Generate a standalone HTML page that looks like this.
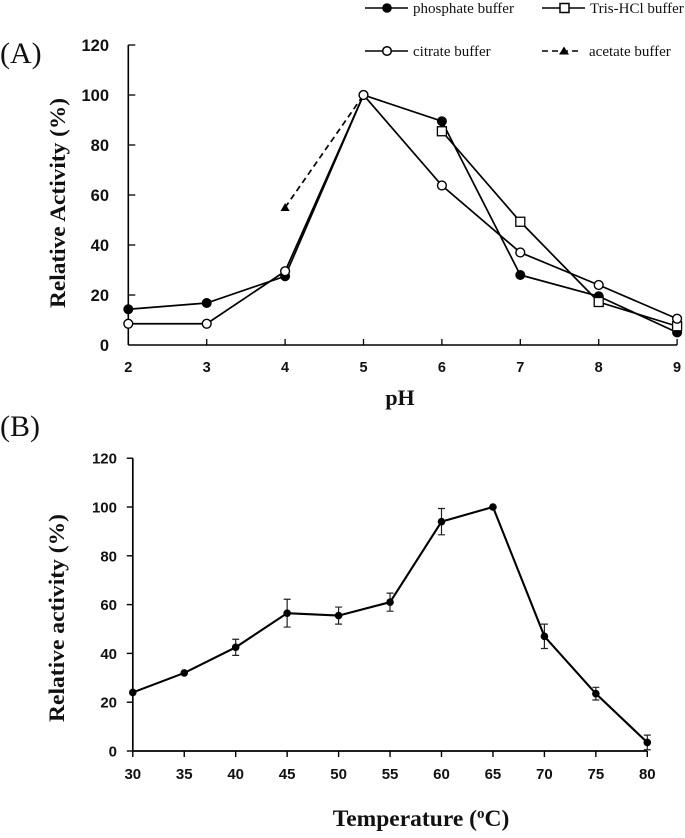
<!DOCTYPE html>
<html>
<head>
<meta charset="utf-8">
<style>
html,body{margin:0;padding:0;background:#fff;}
svg{display:block;}
text{fill:#111;}
.tick{font:bold 16.5px "Liberation Sans",sans-serif;}
.title{font:bold 22px "Liberation Serif",serif;}
.leg{font:15px "Liberation Serif",serif;}
.panel{font:30px "Liberation Serif",serif;}
</style>
</head>
<body>
<svg id="fig" width="685" height="838" viewBox="0 0 685 838" xmlns="http://www.w3.org/2000/svg">
  <text class="panel" x="0" y="63">(A)</text>
  <text class="panel" x="0" y="436">(B)</text>
  <text class="title" x="0" y="0" transform="translate(65,203) rotate(-90)" text-anchor="middle" textLength="210" lengthAdjust="spacingAndGlyphs">Relative Activity (%)</text>
  <text class="title" x="400" y="405" text-anchor="middle">pH</text>
  <text class="title" x="0" y="0" transform="translate(64,618) rotate(-90)" text-anchor="middle" textLength="208" lengthAdjust="spacingAndGlyphs">Relative activity (%)</text>
  <text class="title" x="421" y="826" text-anchor="middle" style="font-size:23.5px">Temperature (<tspan font-size="15" dy="-8">o</tspan><tspan dy="8">C)</tspan></text>

  <g>
    <line x1="365" y1="8" x2="408" y2="8" stroke="#000" stroke-width="1.6"/>
    <circle cx="387" cy="8" r="4.8" fill="#000"/>
    <text class="leg" x="413" y="13">phosphate buffer</text>
    <line x1="542" y1="8" x2="585" y2="8" stroke="#000" stroke-width="1.6"/>
    <rect x="560" y="3.5" width="9" height="9" fill="#fff" stroke="#000" stroke-width="1.5"/>
    <text class="leg" x="590" y="13">Tris-HCl buffer</text>
    <line x1="365" y1="51" x2="408" y2="51" stroke="#000" stroke-width="1.6"/>
    <circle cx="387" cy="51" r="4.3" fill="#fff" stroke="#000" stroke-width="1.5"/>
    <text class="leg" x="413" y="56">citrate buffer</text>
    <line x1="542" y1="51" x2="582" y2="51" stroke="#000" stroke-width="1.6" stroke-dasharray="6 4"/>
    <polygon points="564,46.5 569,54.5 559,54.5" fill="#000"/>
    <text class="leg" x="589" y="56">acetate buffer</text>
  </g>
  <g id="panelA"></g>
  <g id="panelB"></g>
</svg>
<script>
// Panel A data
const phCategories = [2, 3, 4, 5, 6, 7, 8, 9];
const phosphateValues = [14.3, 16.8, 27.5, 100, 89.5, 28, 19.5, 5];
const trisValues = [null, null, null, null, 85.5, 49.3, 17.2, 7.5];
const citrateValues = [8.5, 8.5, 29.5, 100, 63.8, 37, 24, 10.5];
const acetateValues = [null, null, 55, 100, null, null, null, null];
const panelAYTicks = [0, 20, 40, 60, 80, 100, 120];

// Panel B data
const tempCategories = [30, 35, 40, 45, 50, 55, 60, 65, 70, 75, 80];
const activityValues = [24, 32, 42.5, 56.5, 55.5, 61, 94, 100, 47, 23.5, 3.5];
const activityErrors = [0, 0, 3.3, 5.7, 3.5, 3.7, 5.4, 0, 5, 2.6, 3];
const panelBYTicks = [0, 20, 40, 60, 80, 100, 120];

const NS = 'http://www.w3.org/2000/svg';
function mk(parent, tag, props) {
  const el = document.createElementNS(NS, tag);
  for (const k in props) el.setAttribute(k, props[k]);
  parent.appendChild(el);
  return el;
}

// Panel A axis functions
const ax = v => 128.3 + (v - 2) * 78.4;
const ay = v => 345 - v * 2.5;
// Panel B axis functions
const bx = v => 132.8 + (v - 30) * 10.29;
const by = v => 751 - v * 2.44;

const A = document.getElementById('panelA');
const B = document.getElementById('panelB');

// Panel A axes
const aAxisY = mk(A, 'line', {x1: ax(2), y1: ay(120), x2: ax(2), y2: ay(0), stroke: '#000', 'stroke-width': 1.6});


const aAxisX = mk(A, 'line', {x1: ax(2), y1: ay(0), x2: ax(9), y2: ay(0), stroke: '#000', 'stroke-width': 1.6});



panelAYTicks.forEach(v => {
  if (v > 0) {
    const t = mk(A, 'line', {x1: ax(2), y1: ay(v), x2: ax(2) + 7, y2: ay(v), stroke: '#000', 'stroke-width': 1.3});
    
    
  }
  const l = mk(A, 'text', {x: 109, y: ay(v) + 6, 'text-anchor': 'end', class: 'tick'});
  l.textContent = v;
  
  
});
phCategories.forEach(v => {
  const t = mk(A, 'line', {x1: ax(v), y1: ay(0), x2: ax(v), y2: ay(0) - 6, stroke: '#000', 'stroke-width': 1.3});
  
  
  const l = mk(A, 'text', {x: ax(v), y: 372, 'text-anchor': 'middle', class: 'tick', style: 'font-size:14.5px'});
  l.textContent = v;
  
  
});

function polyPoints(xs, ys, fx, fy) {
  const pts = [];
  xs.forEach((x, i) => { if (ys[i] !== null) pts.push(fx(x) + ',' + fy(ys[i])); });
  return pts.join(' ');
}

// Panel A series lines
const lineAcetate = mk(A, 'polyline', {points: polyPoints(phCategories, acetateValues, ax, ay), fill: 'none', stroke: '#000', 'stroke-width': 1.7, 'stroke-dasharray': '6 4'});


const linePhosphate = mk(A, 'polyline', {points: polyPoints(phCategories, phosphateValues, ax, ay), fill: 'none', stroke: '#000', 'stroke-width': 1.7});


const lineTris = mk(A, 'polyline', {points: polyPoints(phCategories, trisValues, ax, ay), fill: 'none', stroke: '#000', 'stroke-width': 1.7});


const lineCitrate = mk(A, 'polyline', {points: polyPoints(phCategories, citrateValues, ax, ay), fill: 'none', stroke: '#000', 'stroke-width': 1.7});



// Panel A markers
phCategories.forEach((x, i) => {
  if (acetateValues[i] !== null && x !== 5) {
    const cx = ax(x), cy = ay(acetateValues[i]);
    const m = mk(A, 'polygon', {points: cx + ',' + (cy - 4.5) + ' ' + (cx + 4.5) + ',' + (cy + 3.5) + ' ' + (cx - 4.5) + ',' + (cy + 3.5), fill: '#000'});
    
    
  }
});
phCategories.forEach((x, i) => {
  const m = mk(A, 'circle', {cx: ax(x), cy: ay(phosphateValues[i]), r: 5, fill: '#000'});
  
  
});
phCategories.forEach((x, i) => {
  if (trisValues[i] === null) return;
  const m = mk(A, 'rect', {x: ax(x) - 4.5, y: ay(trisValues[i]) - 4.5, width: 9, height: 9, fill: '#fff', stroke: '#000', 'stroke-width': 1.3});
  
  
});
phCategories.forEach((x, i) => {
  const m = mk(A, 'circle', {cx: ax(x), cy: ay(citrateValues[i]), r: 4.4, fill: '#fff', stroke: '#000', 'stroke-width': 1.4});
  
  
});

// Panel B axes
const bAxisY = mk(B, 'line', {x1: bx(30), y1: by(120), x2: bx(30), y2: by(0), stroke: '#000', 'stroke-width': 1.7});


const bAxisX = mk(B, 'line', {x1: bx(30), y1: by(0), x2: bx(80), y2: by(0), stroke: '#000', 'stroke-width': 1.7});



panelBYTicks.forEach(v => {
  const t = mk(B, 'line', {x1: bx(30) - 6, y1: by(v), x2: bx(30), y2: by(v), stroke: '#000', 'stroke-width': 1.4});
  
  
  const l = mk(B, 'text', {x: 117, y: by(v) + 5.5, 'text-anchor': 'end', class: 'tick', style: 'font-size:15px'});
  l.textContent = v;
  
  
});
tempCategories.forEach(v => {
  const t = mk(B, 'line', {x1: bx(v), y1: by(0), x2: bx(v), y2: by(0) + 6, stroke: '#000', 'stroke-width': 1.4});
  
  
  const l = mk(B, 'text', {x: bx(v), y: 779, 'text-anchor': 'middle', class: 'tick', style: 'font-size:15px'});
  l.textContent = v;
  
  
});

// Panel B error bars
tempCategories.forEach((x, i) => {
  const e = activityErrors[i];
  if (!e) return;
  const cx = bx(x), hi = by(activityValues[i] + e), lo = by(activityValues[i] - e);
  const d = 'M' + cx + ' ' + hi + 'V' + lo + 'M' + (cx - 3.5) + ' ' + hi + 'H' + (cx + 3.5) + 'M' + (cx - 3.5) + ' ' + lo + 'H' + (cx + 3.5);
  const p = mk(B, 'path', {d: d, fill: 'none', stroke: '#222', 'stroke-width': 1.2});
  
  
});

// Panel B line and points
const lineActivity = mk(B, 'polyline', {points: polyPoints(tempCategories, activityValues, bx, by), fill: 'none', stroke: '#000', 'stroke-width': 2.1});


tempCategories.forEach((x, i) => {
  const m = mk(B, 'circle', {cx: bx(x), cy: by(activityValues[i]), r: 3.8, fill: '#000'});
  
  
});
</script>
</body>
</html>
